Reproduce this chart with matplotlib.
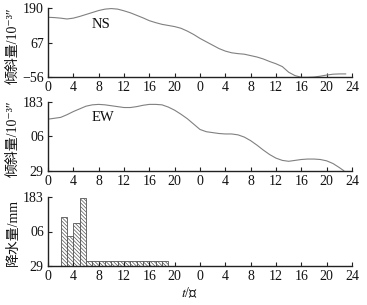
import matplotlib
matplotlib.use("Agg")
import matplotlib.pyplot as plt

plt.rcParams['font.family'] = ['Liberation Serif', 'Noto Sans CJK SC', 'DejaVu Sans']
plt.rcParams['mathtext.fontset'] = 'stix'
plt.rcParams['hatch.linewidth'] = 0.5
plt.rcParams['hatch.color'] = '#7a7a7a'

# x tick labels (two consecutive days)
xtick_pos = [0, 4, 8, 12, 16, 20, 24, 28, 32, 36, 40, 44, 48]
xtick_labels = ['0', '4', '8', '12', '16', '20', '0', '4', '8', '12', '16', '20', '24']

# NS tilt
ns_t = list(range(0, 48))
ns_v = [157, 156, 154, 151, 154, 160, 167, 174, 181, 186, 188, 186, 180, 173, 164, 155,
        145, 138, 132, 128, 124, 118, 108, 96, 82, 70, 58, 46, 37, 31, 28, 26,
        21, 16, 9, 0, -8, -18, -38, -50, -56, -56, -55, -52, -48, -45, -44, -44]
ns_ticks = [-56, 67, 190]
ns_ticklabels = ['\u221256', '67', '190']

# EW tilt
ew_t = list(range(0, 47)) + [46.7]
ew_v = [144, 146, 148, 154, 161, 167, 173, 176, 177, 176, 174, 172, 170, 170, 172, 175,
        177, 177, 176, 171, 164, 155, 145, 133, 121, 116, 114, 112, 111, 111, 109, 104,
        96, 86, 75, 65, 57, 52, 50, 52, 54, 55, 55, 54, 51, 45, 36, 29]
ew_ticks = [29, 106, 183]
ew_ticklabels = ['29', '06', '183']

# precipitation
rain_t = [2, 3, 4, 5, 6, 7, 8, 9, 10, 11, 12, 13, 14, 15, 16, 17, 18]
rain_v = [138, 97, 124, 180, 41, 41, 41, 41, 41, 41, 41, 41, 41, 41, 41, 41, 41]
rain_ticks = [29, 106, 183]
rain_ticklabels = ['29', '06', '183']

W, H = 367, 305
fig = plt.figure(figsize=(W / 100, H / 100), dpi=100)

def pos(top, bottom, left=48, right=352):
    return [left / W, 1 - bottom / H, (right - left) / W, (bottom - top) / H]

ax1 = fig.add_axes(pos(8, 77.3))
ax2 = fig.add_axes(pos(101.7, 170.7))
ax3 = fig.add_axes(pos(197, 266))

line_kw = dict(color='#808080', lw=0.8)
ax1.plot(ns_t, ns_v, **line_kw)
ax2.plot(ew_t, ew_v, **line_kw)
ax3.bar(rain_t, [v - 29 for v in rain_v], bottom=29, width=1, align='edge',
        facecolor='white', edgecolor='#555555', linewidth=0.6, hatch='\\' * 9)

ax1.set_ylim(-56, 190)
ax2.set_ylim(29, 183)
ax3.set_ylim(29, 183)
ax1.set_yticks(ns_ticks)
ax1.set_yticklabels(ns_ticklabels)
ax2.set_yticks(ew_ticks)
ax2.set_yticklabels(ew_ticklabels)
ax3.set_yticks(rain_ticks)
ax3.set_yticklabels(rain_ticklabels)

for ax in (ax1, ax2, ax3):
    ax.set_xlim(0, 48)
    ax.set_xticks(xtick_pos)
    ax.set_xticklabels(xtick_labels)
    for s in ('top', 'right'):
        ax.spines[s].set_visible(False)
    for s in ('left', 'bottom'):
        ax.spines[s].set_color('#222222')
        ax.spines[s].set_linewidth(1.0)
    ax.tick_params(direction='in', length=3, width=0.8, color='#222222',
                   labelsize=10, pad=3, labelcolor='#111111')
    ax.set_facecolor('none')

ax1.text(8.4, 133, 'NS', fontsize=10.5, ha='center', va='center', color='#111111')
ax2.text(8.7, 148, 'EW', fontsize=10.5, ha='center', va='center', color='#111111')

lab_kw = dict(fontsize=10, rotation=90, ha='center', va='center', color='#111111')
fig.text(13 / W, 1 - 46 / H, '倾斜量/10\u207b\u00b3″', **lab_kw)
fig.text(13 / W, 1 - 139 / H, '倾斜量/10\u207b\u00b3″', **lab_kw)
fig.text(13 / W, 1 - 232 / H, '降水量/mm', **lab_kw)
fig.text(190 / W, 1 - 293 / H, '$t$/时', fontsize=10, ha='center', va='center', color='#111111')

fig.savefig('out.png', dpi=100)
